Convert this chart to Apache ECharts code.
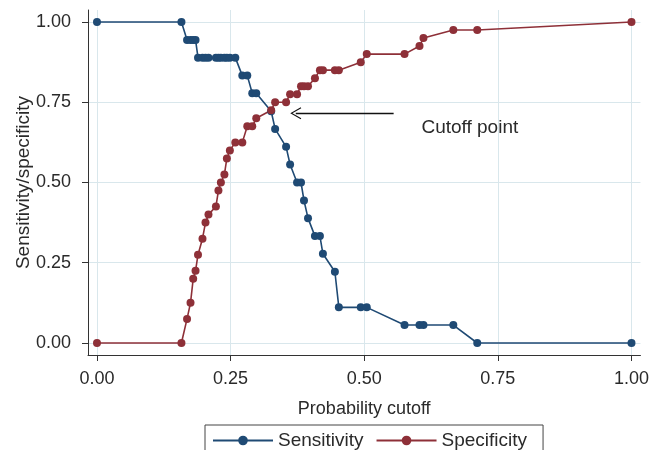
<!DOCTYPE html>
<html>
<head>
<meta charset="utf-8">
<script src="https://cdn.jsdelivr.net/npm/echarts@6/dist/echarts.min.js"></script>
<style>html,body{margin:0;padding:0;background:#fff}#c{width:652px;height:450px}</style>
</head>
<body>
<div id="c"></div>
<script>
const cutoffs = [0, 0.158, 0.1685, 0.175, 0.180, 0.1844, 0.189, 0.1974, 0.203, 0.2086, 0.2225, 0.2272, 0.2318, 0.2384, 0.243, 0.2486, 0.2588, 0.2719, 0.2812, 0.2905, 0.298, 0.3259, 0.3333, 0.3538, 0.3613, 0.3743, 0.3817, 0.3873, 0.3948, 0.4078, 0.4171, 0.4227, 0.4451, 0.4525, 0.4935, 0.5047, 0.5754, 0.6034, 0.6108, 0.6667, 0.7114, 1.0];
const sensitivity = [1, 1, 0.944, 0.944, 0.944, 0.944, 0.889, 0.889, 0.889, 0.889, 0.889, 0.889, 0.889, 0.889, 0.889, 0.889, 0.889, 0.833, 0.833, 0.778, 0.778, 0.722, 0.667, 0.611, 0.556, 0.5, 0.5, 0.444, 0.389, 0.333, 0.333, 0.278, 0.222, 0.111, 0.111, 0.111, 0.056, 0.056, 0.056, 0.056, 0, 0];
const specificity = [0, 0, 0.075, 0.125, 0.2, 0.225, 0.275, 0.325, 0.375, 0.4, 0.425, 0.475, 0.5, 0.525, 0.575, 0.6, 0.625, 0.625, 0.675, 0.675, 0.7, 0.725, 0.75, 0.75, 0.775, 0.775, 0.8, 0.8, 0.8, 0.825, 0.85, 0.85, 0.85, 0.85, 0.875, 0.9, 0.9, 0.925, 0.95, 0.975, 0.975, 1];
const xTicks = [0, 0.25, 0.5, 0.75, 1];
const yTicks = [0, 0.25, 0.5, 0.75, 1];
const arrowFrom = [0.555, 0.7156];
const arrowTo = [0.3719, 0.7156];
const notePos = [0.607, 0.670];
const noteText = 'Cutoff point';

const FONT = '"Liberation Sans", Arial, Helvetica, sans-serif';
const TXT = '#2a2a2a';
const GRID = '#d9e7ec';
const BLUE = '#1f4a74';
const RED = '#8e3038';

const chart = echarts.init(document.getElementById('c'), null, {renderer: 'canvas'});
const pair = (ys) => cutoffs.map((x, i) => [x, ys[i]]);
const fmt = (v) => Number(v).toFixed(2);

chart.setOption({
  animation: false,
  backgroundColor: '#fff',
  textStyle: {fontFamily: FONT},
  grid: {left: 88, right: 9, top: 10, bottom: 95, containLabel: false},
  xAxis: {
    type: 'value', min: -0.0168, max: 1.0168,
    name: 'Probability cutoff', nameLocation: 'middle', nameGap: 45, nameMoveOverlap: false,
    nameTextStyle: {fontSize: 18, color: TXT, fontFamily: FONT},
    axisLine: {show: true, onZero: false, lineStyle: {color: '#333', width: 1}},
    axisTick: {show: true, length: 6, customValues: xTicks, lineStyle: {color: '#333'}},
    axisLabel: {customValues: xTicks, formatter: fmt, fontSize: 18, color: TXT, margin: 15, fontFamily: FONT},
    splitLine: {show: true, lineStyle: {color: GRID, width: 1}}
  },
  yAxis: {
    type: 'value', min: -0.0374, max: 1.0374,
    name: 'Sensitivity/specificity', nameLocation: 'middle', nameGap: 55, nameMoveOverlap: false,
    nameTextStyle: {fontSize: 19, color: TXT, fontFamily: FONT},
    axisLine: {show: true, onZero: false, lineStyle: {color: '#333', width: 1}},
    axisTick: {show: true, length: 6, customValues: yTicks, lineStyle: {color: '#333'}},
    axisLabel: {customValues: yTicks, formatter: fmt, fontSize: 18, color: TXT, margin: 17, fontFamily: FONT},
    splitLine: {show: true, lineStyle: {color: GRID, width: 1}}
  },
  legend: {
    left: 205, top: 425,
    padding: [6, 16, 12, 7],
    borderColor: '#444', borderWidth: 1,
    itemWidth: 60, itemHeight: 12, itemGap: 12,
    textStyle: {fontSize: 19, color: TXT, fontFamily: FONT},
    data: ['Sensitivity', 'Specificity']
  },
  series: [
    {
      name: 'Sensitivity', type: 'line', data: pair(sensitivity),
      symbol: 'circle', symbolSize: 8, showAllSymbol: true,
      itemStyle: {color: BLUE}, lineStyle: {color: BLUE, width: 1.6}
    },
    {
      name: 'Specificity', type: 'line', data: pair(specificity),
      symbol: 'circle', symbolSize: 8, showAllSymbol: true,
      itemStyle: {color: RED}, lineStyle: {color: RED, width: 1.6},
      markLine: {
        silent: true, animation: false,
        symbol: ['none', 'path://M10,0 L20,19 L18.4,20 L10,4 L1.6,20 L0,19 Z'],
        symbolSize: [12, 11],
        lineStyle: {color: '#111', width: 1.3, type: 'solid'},
        label: {show: false},
        data: [[{coord: arrowFrom}, {coord: arrowTo}]]
      },
      markPoint: {
        silent: true, animation: false,
        symbol: 'circle', symbolSize: 0,
        label: {show: true, position: 'right', distance: 0, formatter: noteText, fontSize: 19, color: TXT, fontFamily: FONT},
        data: [{coord: notePos}]
      }
    }
  ]
});
</script>
</body>
</html>
